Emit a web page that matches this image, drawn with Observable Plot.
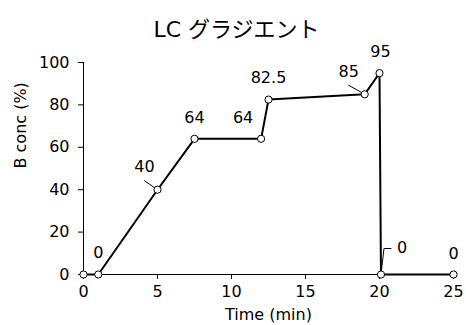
<!DOCTYPE html>
<html>
<head>
<meta charset="utf-8">
<script src="https://cdn.jsdelivr.net/npm/d3@7"></script>
<script src="https://cdn.jsdelivr.net/npm/@observablehq/plot@0.6"></script>
<style>
  html, body { margin: 0; padding: 0; background: #fff; }
</style>
</head>
<body>
<div id="chart"></div>
<script>
// Data
const timeMin = [0, 1, 5, 7.5, 12, 12.5, 19, 20, 20.1, 25];
const bConc = [0, 0, 40, 64, 64, 82.5, 85, 95, 0, 0];
const pointLabels = [null, "0", "40", "64", "64", "82.5", "85", "95", "0", "0"];
const xTicks = [0, 5, 10, 15, 20, 25];
const yTicks = [0, 20, 40, 60, 80, 100];
const title = "LC グラジエント";
const xLabel = "Time (min)";
const yLabel = "B conc (%)";

const data = timeMin.map((t, i) => ({t, b: bConc[i], label: pointLabels[i]}));

// label placement (pixel offsets from each point)
const labelOffsets = [null, [0, -22], [-13, -23], [0, -21], [-18, -21], [0, -22], [-16, -22], [1, -21], [21, -27], [0, -21]];

const fontFamily = '"DejaVu Sans", "Noto Sans CJK JP", sans-serif';

const labelMarks = data.map((d, i) => d.label == null ? null :
  Plot.text([d], {x: "t", y: "b", text: "label", dx: labelOffsets[i][0], dy: labelOffsets[i][1],
    fontSize: 16, fill: "black", lineAnchor: "middle", textAnchor: "middle"})
).filter(Boolean);

// leader line shapes (drawn relative to the point)
const leaderShapes = {
  2: {draw(ctx) { ctx.moveTo(0, 0); ctx.lineTo(-13, -9); }},
  6: {draw(ctx) { ctx.moveTo(0, 0); ctx.lineTo(-16, -9); }},
  8: {draw(ctx) { ctx.moveTo(0, 0); ctx.lineTo(3, -26); ctx.lineTo(10, -26); }}
};
const leaderMarks = Object.entries(leaderShapes).map(([i, shape]) =>
  Plot.vector([data[+i]], {x: "t", y: "b", length: 10, anchor: "start", shape, stroke: "black", strokeWidth: 1})
);

const plot = Plot.plot({
  width: 466,
  height: 325,
  marginLeft: 83,
  marginRight: 13,
  marginTop: 62,
  marginBottom: 51,
  style: {fontFamily, fontSize: "16px", color: "black", background: "#fff"},
  x: {domain: [0, 25], ticks: xTicks, tickSize: 5, tickPadding: 6, line: true, label: null},
  y: {domain: [0, 100], ticks: yTicks, tickSize: 5, tickPadding: 9, line: true, label: null},
  marks: [
    ...leaderMarks,
    Plot.line(data, {x: "t", y: "b", stroke: "black", strokeWidth: 2}),
    Plot.dot(data, {x: "t", y: "b", r: 3.6, fill: "white", stroke: "black", strokeWidth: 1}),
    ...labelMarks,
    Plot.text([title], {frameAnchor: "top", dx: -32, dy: -33, fontSize: 22, fill: "black", lineAnchor: "middle"}),
    Plot.text([xLabel], {frameAnchor: "bottom", dy: 40, fontSize: 16, fill: "black", lineAnchor: "middle"}),
    Plot.text([yLabel], {frameAnchor: "left", dx: -63, rotate: -90, fontSize: 16, fill: "black", lineAnchor: "middle"})
  ]
});
document.getElementById("chart").appendChild(plot);
</script>
</body>
</html>
